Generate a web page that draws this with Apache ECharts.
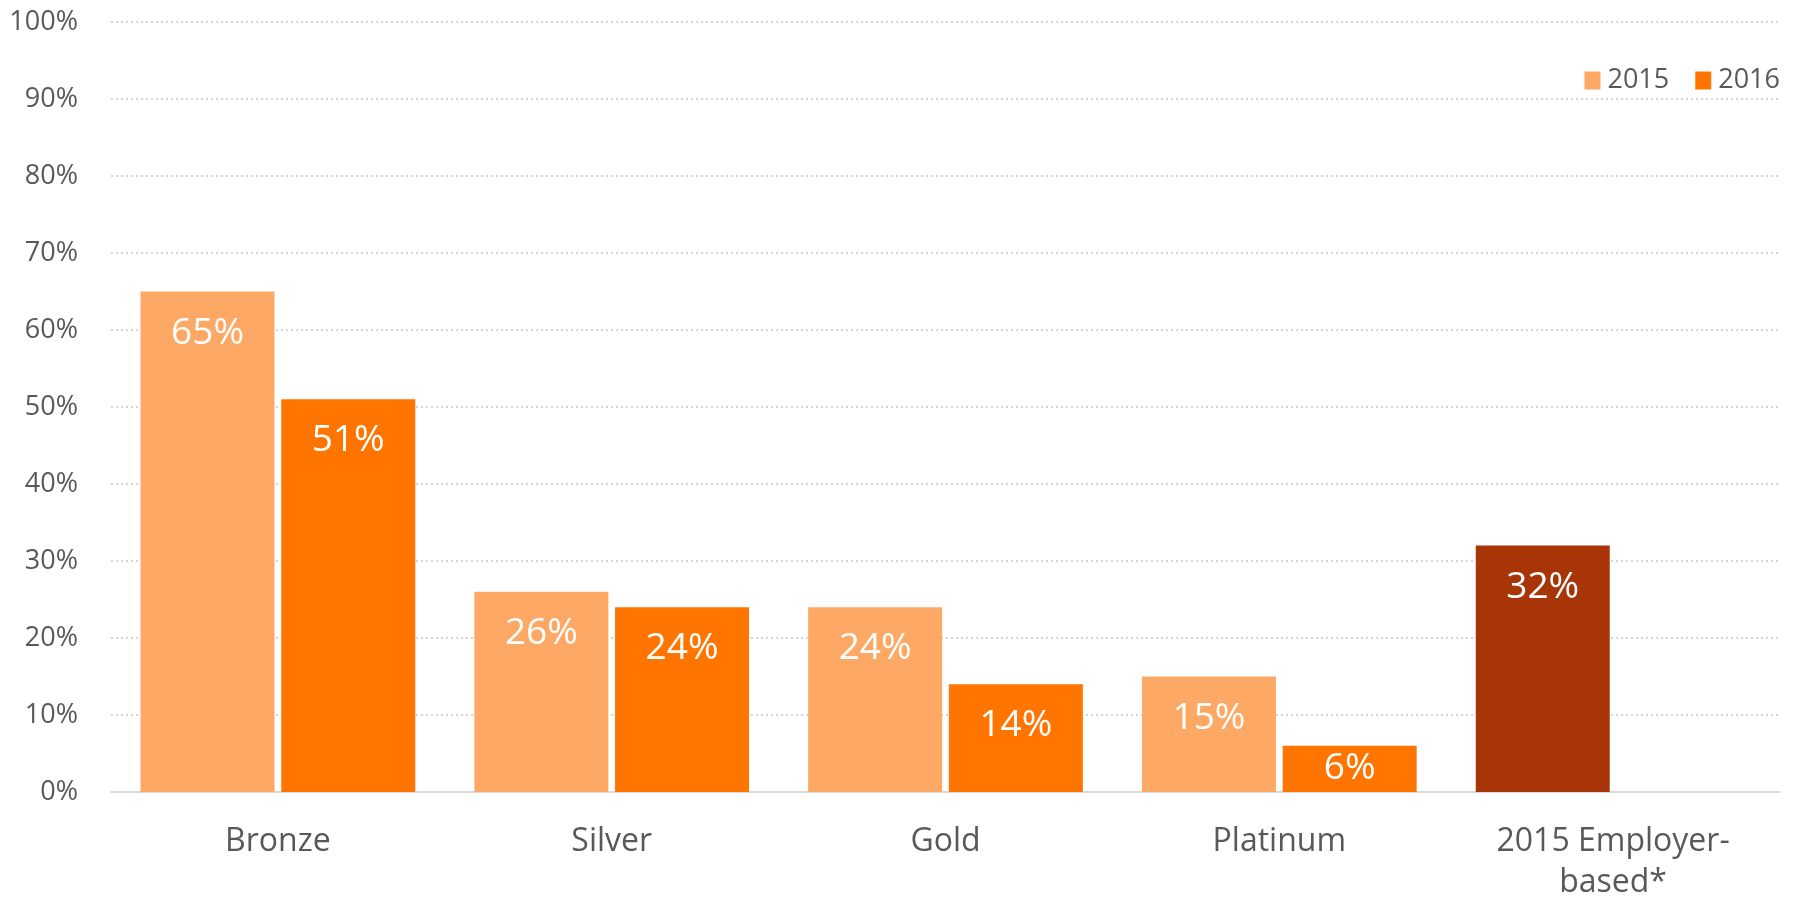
<!DOCTYPE html>
<html>
<head>
<meta charset="utf-8">
<script src="https://cdn.jsdelivr.net/npm/echarts@6/dist/echarts.min.js"></script>
<style>
html,body{margin:0;padding:0;background:#fff;}
#chart{width:1797px;height:901px;}
</style>
</head>
<body>
<div id="chart"></div>
<script>
const categories = ['Bronze', 'Silver', 'Gold', 'Platinum', '2015 Employer-\nbased*'];
const seriesNames = ['2015', '2016'];
const values2015 = [65, 26, 24, 15, 32];
const values2016 = [51, 24, 14, 6, null];
const yTicks = [0, 10, 20, 30, 40, 50, 60, 70, 80, 90, 100];

const C2015 = '#FDA965';
const C2016 = '#FF7500';
const CEMP = '#A83508';
const FONT = 'Open Sans';

function buildData(vals) {
  return vals.map((v, i) => {
    if (v === null) return '-';
    const item = { value: v, label: {} };
    if (i === categories.length - 1) item.itemStyle = { color: CEMP };
    if (v < 10) item.label = { position: 'inside', distance: 0 };
    return item;
  });
}

const labelStyle = {
  show: true,
  position: 'insideTop',
  distance: 23,
  color: '#ffffff',
  fontFamily: FONT,
  fontSize: 37,
  formatter: '{c}%'
};

const chart = echarts.init(document.getElementById('chart'), null, { renderer: 'canvas' });
chart.setOption({
  animation: false,
  backgroundColor: '#ffffff',
  textStyle: { fontFamily: FONT },
  grid: { left: 111, right: 17, top: 22, bottom: 109, containLabel: false, outerBoundsMode: 'none' },
  legend: {
    data: seriesNames,
    right: 12,
    top: 62,
    itemWidth: 16,
    itemHeight: 18,
    itemGap: 26,
    icon: 'rect',
    textStyle: { color: '#595959', fontSize: 27, fontFamily: FONT, padding: [0, 0, 0, 2] }
  },
  xAxis: {
    type: 'category',
    data: categories,
    axisLine: { show: true, lineStyle: { color: '#D9D9D9', width: 2 } },
    axisTick: { show: false },
    axisLabel: {
      color: '#595959',
      fontSize: 32,
      fontFamily: FONT,
      lineHeight: 41,
      margin: 29,
      interval: 0
    }
  },
  yAxis: {
    type: 'value',
    min: yTicks[0],
    max: yTicks[yTicks.length - 1],
    interval: yTicks[1] - yTicks[0],
    axisLine: { show: false },
    axisTick: { show: false },
    axisLabel: {
      color: '#595959',
      fontSize: 27,
      fontFamily: FONT,
      margin: 33,
      formatter: '{value}%'
    },
    splitLine: { show: true, lineStyle: { color: '#C8C8C8', type: [2, 3], width: 1.5 } }
  },
  series: [
    {
      name: seriesNames[0],
      type: 'bar',
      data: buildData(values2015),
      itemStyle: { color: C2015 },
      barWidth: 134,
      barGap: '5%',
      label: labelStyle
    },
    {
      name: seriesNames[1],
      type: 'bar',
      data: buildData(values2016),
      itemStyle: { color: C2016 },
      barWidth: 134,
      barGap: '5%',
      label: labelStyle
    }
  ]
});
</script>
</body>
</html>
